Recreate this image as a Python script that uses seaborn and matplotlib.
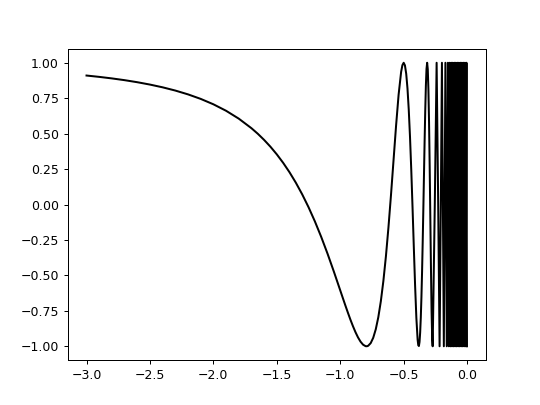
import matplotlib
matplotlib.use("Agg")
import matplotlib.pyplot as plt
import seaborn as sns
import pandas as pd

# smooth part of the curve
x_smooth = [-3.0, -2.9, -2.8, -2.7, -2.6, -2.5, -2.4, -2.3, -2.2, -2.1, -2.0,
            -1.9, -1.8, -1.7,
            -1.65, -1.6, -1.55, -1.5, -1.45, -1.4, -1.35, -1.3, -1.25, -1.2, -1.15, -1.1, -1.05, -1.0,
            -0.98, -0.96, -0.94, -0.92, -0.90, -0.88, -0.86, -0.84, -0.82, -0.80,
            -0.79,
            -0.78, -0.76, -0.74, -0.72, -0.70, -0.68, -0.66, -0.64, -0.62, -0.60, -0.58, -0.56, -0.54, -0.52,
            -0.51, -0.50, -0.49, -0.48, -0.47, -0.46, -0.45, -0.44, -0.43, -0.42, -0.41, -0.40,
            -0.39,
            -0.385, -0.38, -0.375, -0.37, -0.365, -0.36, -0.355, -0.35, -0.345, -0.34, -0.335, -0.33,
            -0.325, -0.32, -0.315, -0.31, -0.305, -0.30, -0.295, -0.29, -0.285, -0.28, -0.275]
y_smooth = [0.910, 0.9005, 0.8897, 0.8773, 0.8629, 0.8462, 0.8268, 0.8040, 0.7771, 0.7452, 0.7071,
            0.6614, 0.6059, 0.5384,
            0.4993, 0.4557, 0.4075, 0.3538, 0.2941, 0.2278, 0.1540, 0.0720, -0.0187, -0.1188, -0.2284, -0.3472, -0.4740, -0.6057,
            -0.6586, -0.7110, -0.7621, -0.8116, -0.8578, -0.9003, -0.9374, -0.9675, -0.9888, -0.9993,
            -0.9998,
            -0.9966, -0.9778, -0.9400, -0.8802, -0.7953, -0.6823, -0.5392, -0.3656, -0.1615, 0.0672, 0.3113, 0.5553, 0.7743, 0.9362,
            0.9831, 1.0, 0.9814, 0.9224, 0.8192, 0.6698, 0.4753, 0.2404, -0.0241, -0.3025, -0.5707, -0.7997,
            -0.9541,
            -0.9921, -0.9982, -0.9693, -0.9024, -0.7969, -0.6529, -0.4739, -0.2641, -0.0334, 0.2077, 0.4449, 0.6612,
            0.8381, 0.9569, 1.0, 0.9542, 0.8129, 0.5794, 0.2703, -0.0869, -0.4458, -0.7552, -0.9541]

# fast oscillation near zero: successive troughs / crossings / peaks
x_fast = [-0.2714, -0.2547, -0.2403, -0.2279, -0.2169, -0.2072, -0.1984, -0.1834,
          -0.1710, -0.1604, -0.1514, -0.1436, -0.1367, -0.1305, -0.1250,
          -0.119, -0.113, -0.107, -0.101, -0.095, -0.089, -0.083, -0.077, -0.071,
          -0.065, -0.059, -0.053, -0.047, -0.041, -0.035, -0.029, -0.023, -0.017,
          -0.011, -0.005, -0.001]
y_fast = [-1.0, 0.0, 1.0, 0.0, -1.0, 0.0, 1.0, -1.0,
          1.0, -1.0, 1.0, -1.0, 1.0, -1.0, 1.0,
          -1.0, 1.0, -1.0, 1.0, -1.0, 1.0, -1.0, 1.0, -1.0,
          1.0, -1.0, 1.0, -1.0, 1.0, -1.0, 1.0, -1.0, 1.0,
          -1.0, 1.0, -1.0]

df = pd.DataFrame({"x": x_smooth + x_fast, "y": y_smooth + y_fast})

fig, ax = plt.subplots(figsize=(6, 4.5), dpi=90)
sns.lineplot(data=df, x="x", y="y", sort=False, estimator=None,
             color="black", linewidth=1.6, ax=ax)
ax.set_xlabel("")
ax.set_ylabel("")
ax.set_xticks([-3.0, -2.5, -2.0, -1.5, -1.0, -0.5, 0.0])
ax.set_yticks([-1.0, -0.75, -0.5, -0.25, 0.0, 0.25, 0.5, 0.75, 1.0])
fig.savefig("out.png", dpi=90)
